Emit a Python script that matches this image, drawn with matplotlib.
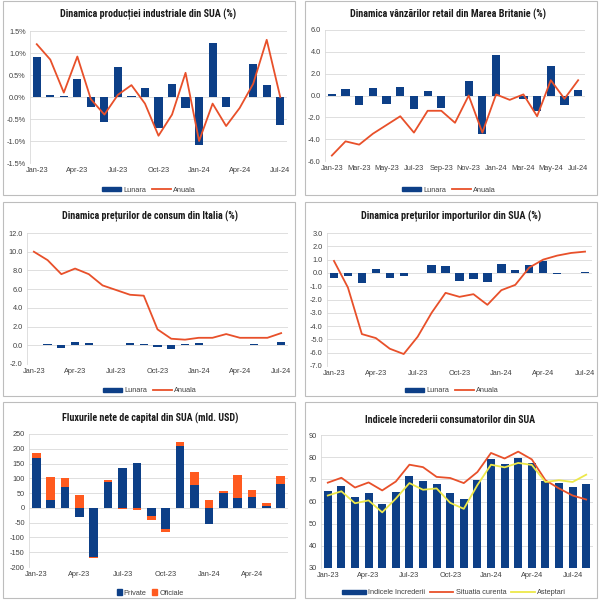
import matplotlib.pyplot as plt
from matplotlib.patches import Rectangle, Patch
from matplotlib.lines import Line2D
from matplotlib import font_manager as fm
import numpy as np

luni = ['Jan-23', 'Feb-23', 'Mar-23', 'Apr-23', 'May-23', 'Jun-23', 'Jul-23', 'Aug-23',
        'Sep-23', 'Oct-23', 'Nov-23', 'Dec-23', 'Jan-24', 'Feb-24', 'Mar-24', 'Apr-24',
        'May-24', 'Jun-24', 'Jul-24', 'Aug-24']

# productia industriala SUA (%)
ind_lunara = [0.9, 0.05, 0.02, 0.4, -0.22, -0.57, 0.68, 0.02, 0.2, -0.7, 0.3, -0.24,
              -1.1, 1.23, -0.22, -0.01, 0.75, 0.27, -0.63]
ind_anuala = [1.2, 0.85, 0.1, 0.92, -0.05, -0.4, 0.05, 0.27, -0.15, -0.88, -0.4, 0.55,
              -1.0, -0.15, -0.66, -0.25, 0.3, 1.3, 0.0]

# vanzari retail Marea Britanie (%)
uk_lunara = [0.15, 0.55, -0.9, 0.7, -0.8, 0.75, -1.2, 0.4, -1.1, 0.0, 1.35, -3.5,
             3.75, 0.0, -0.3, -1.4, 2.7, -0.9, 0.5]
uk_anuala = [-5.5, -4.2, -4.5, -3.5, -2.7, -1.9, -3.4, -1.4, -1.4, -2.5, 0.0, -3.4,
             0.1, -0.4, 0.1, -1.9, 1.4, -0.3, 1.4]

# preturi de consum Italia (%)
it_lunara = [0.05, 0.15, -0.25, 0.3, 0.2, 0.0, 0.0, 0.2, 0.15, -0.15, -0.4, 0.15,
             0.2, 0.05, 0.0, 0.05, 0.15, 0.05, 0.4]
it_anuala = [10.0, 9.1, 7.6, 8.2, 7.6, 6.4, 5.9, 5.4, 5.3, 1.7, 0.7, 0.6,
             0.8, 0.8, 1.2, 0.8, 0.8, 0.8, 1.3]

# preturi import SUA (%)
imp_lunara = [-0.4, -0.2, -0.75, 0.3, -0.35, -0.2, 0.0, 0.6, 0.5, -0.6, -0.45, -0.7,
              0.7, 0.2, 0.6, 0.9, -0.1, 0.0, 0.1]
imp_anuala = [0.9, -1.1, -4.6, -4.9, -5.7, -6.1, -4.8, -3.0, -1.5, -1.8, -1.6, -2.4,
              -1.3, -0.9, 0.4, 1.0, 1.3, 1.5, 1.6]

# fluxuri nete de capital SUA (mld. USD), Jan-23 .. Jun-24
flux_private = [168, 28, 72, -30, -165, 88, 135, 152, -28, -70, 208, 78,
                -55, 52, 32, 38, 6, 80]
flux_oficiale = [19, 75, 28, 43, -5, 7, -3, -7, -12, -13, 15, 44,
                 28, 6, 79, 24, 10, 28]

# increderea consumatorilor SUA, Jan-23 .. Aug-24
incredere = [64.9, 67.0, 62.0, 63.7, 59.0, 64.2, 71.5, 69.3, 67.7, 63.8, 61.3, 69.7,
             79.0, 76.9, 79.4, 77.2, 69.1, 68.2, 66.4, 67.8]
situatia = [68.5, 70.7, 66.3, 68.6, 65.0, 69.0, 76.6, 75.5, 71.1, 70.6, 68.3, 73.3,
            81.9, 79.4, 82.5, 79.0, 69.6, 65.9, 62.7, 60.9]
asteptari = [62.7, 64.6, 59.2, 60.5, 55.1, 61.3, 68.3, 65.3, 65.9, 59.4, 56.7, 67.4,
             76.6, 75.4, 77.4, 76.5, 68.8, 69.6, 68.8, 72.1]

NAVY = '#0D3F87'
RED = '#E8502A'
ORANGE = '#FF5A1F'
YELLOW = '#EDE84A'
TXT_FONT = ['Liberation Sans', 'DejaVu Sans']


def pick_font(names):
    for n in names:
        try:
            fm.findfont(fm.FontProperties(family=n, weight='bold'), fallback_to_default=False)
            return n
        except Exception:
            pass
    return 'DejaVu Sans'


TITLE_FONT = pick_font(['Liberation Sans Narrow', 'DejaVu Sans Condensed', 'Roboto Condensed',
                        'Open Sans Condensed'])

fig = plt.figure(figsize=(6, 6), dpi=100)
titles = []


def fbox(x0, y0, x1, y1):
    return [x0 / 600, 1 - y1 / 600, (x1 - x0) / 600, (y1 - y0) / 600]


# panel borders
for (x0, y0, x1, y1) in [(3, 1, 295, 195), (305, 1, 597, 195), (3, 202, 295, 396),
                         (305, 202, 597, 396), (3, 402, 295, 598), (305, 402, 597, 598)]:
    fig.patches.append(Rectangle((x0 / 600, 1 - y1 / 600), (x1 - x0) / 600, (y1 - y0) / 600,
                                 transform=fig.transFigure, fill=False, ec='#BDBDBD', lw=0.8))


def setup(box, n, ylim, step, fmt, ticks, title, ty, tx, tw):
    ax = fig.add_axes(fbox(*box))
    ax.set_xlim(-0.5, n - 0.5)
    ax.set_ylim(*ylim)
    vals = np.arange(ylim[0], ylim[1] + step / 2, step)
    ax.set_yticks(vals)
    ax.set_yticklabels([fmt.format(v) for v in vals])
    ax.set_xticks(ticks)
    ax.set_xticklabels([luni[i] for i in ticks])
    ax.grid(axis='y', color='#D9D9D9', lw=0.6)
    ax.set_axisbelow(True)
    for s in ['top', 'right', 'bottom']:
        ax.spines[s].set_visible(False)
    ax.spines['left'].set_color('#D9D9D9')
    ax.spines['left'].set_linewidth(0.6)
    ax.tick_params(length=0, labelsize=5.3, colors='#404040', pad=3)
    for lab in ax.get_xticklabels() + ax.get_yticklabels():
        lab.set_family(TXT_FONT)
    t = fig.text(tx / 600, 1 - ty / 600, title, ha='center', va='center', fontsize=8,
                 fontweight='bold', family=[TITLE_FONT, 'DejaVu Sans'], fontstretch='condensed',
                 color='#1A1A1A')
    titles.append((t, tw))
    return ax


def legend(handles, labels, cx, cy, hl=2.6, hh=0.5):
    fig.legend(handles, labels, loc='center', bbox_to_anchor=(cx / 600, 1 - cy / 600),
               ncol=len(labels), frameon=False, prop={'family': TXT_FONT, 'size': 5.3},
               handlelength=hl, handleheight=hh, columnspacing=0.7, handletextpad=0.3,
               labelcolor='#404040')


bar_h = Patch(color=NAVY)
line_h = Line2D([], [], color=RED, lw=1.3)

# 1. productia industriala
x = np.arange(len(ind_lunara))
ax = setup((30, 31, 287, 163), len(x), (-1.5, 1.5), 0.5, '{:.1f}%', list(range(0, 19, 3)),
           'Dinamica producției industriale din SUA (%)', 14, 148, 176)
ax.bar(x, ind_lunara, width=0.6, color=NAVY)
ax.plot(x, ind_anuala, color=RED, lw=1.3)
legend([bar_h, line_h], ['Lunara', 'Anuala'], 149, 190)

# 2. retail UK
x = np.arange(len(uk_lunara))
ax = setup((325, 30, 585, 161), len(x), (-6, 6), 2, '{:.1f}', list(range(0, 19, 2)),
           'Dinamica vânzărilor retail din Marea Britanie (%)', 14, 448, 197)
ax.bar(x, uk_lunara, width=0.6, color=NAVY)
ax.plot(x, uk_anuala, color=RED, lw=1.3)
legend([bar_h, line_h], ['Lunara', 'Anuala'], 449, 190)

# 3. CPI Italia
x = np.arange(len(it_lunara))
ax = setup((27, 233, 288, 364), len(x), (-2, 12), 2, '{:.1f}', list(range(0, 19, 3)),
           'Dinamica prețurilor de consum din Italia (%)', 216, 150, 176)
ax.bar(x, it_lunara, width=0.6, color=NAVY)
ax.plot(x, it_anuala, color=RED, lw=1.3)
legend([bar_h, line_h], ['Lunara', 'Anuala'], 150, 391)

# 4. preturi import SUA
x = np.arange(len(imp_lunara))
ax = setup((327, 233, 592, 366), len(x), (-7, 3), 1, '{:.1f}', list(range(0, 19, 3)),
           'Dinamica prețurilor importurilor din SUA (%)', 216, 451, 180)
ax.bar(x, imp_lunara, width=0.6, color=NAVY)
ax.plot(x, imp_anuala, color=RED, lw=1.3)
legend([bar_h, line_h], ['Lunara', 'Anuala'], 452, 391)

# 5. fluxuri de capital (stivuire separata pozitiv / negativ)
x = np.arange(len(flux_private))
ax = setup((29, 434, 288, 567), len(x), (-200, 250), 50, '{:.0f}', list(range(0, 18, 3)),
           'Fluxurile nete de capital din SUA (mld. USD)', 418, 150, 177)
priv = np.array(flux_private, dtype=float)
ofic = np.array(flux_oficiale, dtype=float)
bottom = np.where(np.sign(ofic) == np.sign(priv), priv, 0)
ax.bar(x, priv, width=0.6, color=NAVY)
ax.bar(x, ofic, bottom=bottom, width=0.6, color=ORANGE)
legend([Patch(color=NAVY), Patch(color=ORANGE)], ['Private', 'Oficiale'], 150, 593, hl=0.7, hh=0.7)

# 6. increderea consumatorilor
x = np.arange(len(incredere))
ax = setup((321, 435, 593, 568), len(x), (30, 90), 10, '{:.0f}', list(range(0, 20, 3)),
           'Indicele încrederii consumatorilor din SUA', 420, 450, 171)
ax.bar(x, np.array(incredere) - 30, bottom=30, width=0.6, color=NAVY)
ax.plot(x, situatia, color=RED, lw=1.3)
ax.plot(x, asteptari, color=YELLOW, lw=1.3)
legend([Patch(color=NAVY), Line2D([], [], color=RED, lw=1.3), Line2D([], [], color=YELLOW, lw=1.3)],
       ['Indicele Increderii', 'Situatia curenta', 'Asteptari'], 454, 593, hl=3.2)

# titles: fit each to the width seen in the reference
fig.canvas.draw()
r = fig.canvas.get_renderer()
for t, tw in titles:
    w = t.get_window_extent(r).width
    t.set_fontsize(min(8.5, 8 * tw / w))

fig.savefig('out.png', dpi=100, facecolor='white')
